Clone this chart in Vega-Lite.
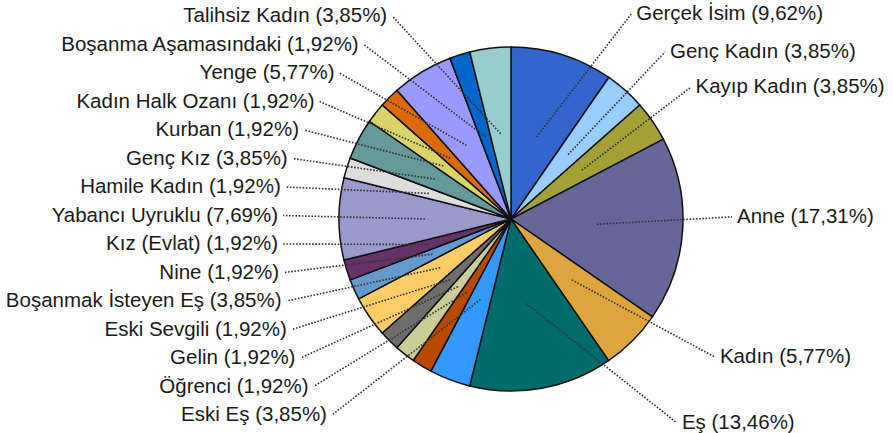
{
  "$schema": "https://vega.github.io/schema/vega-lite/v6.json",
  "width": 764,
  "height": 428,
  "autosize": "none",
  "padding": {"left": 129, "top": 5, "right": 0, "bottom": 0},
  "background": "white",
  "config": {"view": {"stroke": null}},
  "data": {
    "values": [
      {"kategori": "Gerçek İsim", "oran": 9.62, "sira": 1},
      {"kategori": "Genç Kadın", "oran": 3.85, "sira": 2},
      {"kategori": "Kayıp Kadın", "oran": 3.85, "sira": 3},
      {"kategori": "Anne", "oran": 17.31, "sira": 4},
      {"kategori": "Kadın", "oran": 5.77, "sira": 5},
      {"kategori": "Eş", "oran": 13.46, "sira": 6},
      {"kategori": "Eski Eş", "oran": 3.85, "sira": 7},
      {"kategori": "Öğrenci", "oran": 1.92, "sira": 8},
      {"kategori": "Gelin", "oran": 1.92, "sira": 9},
      {"kategori": "Eski Sevgili", "oran": 1.92, "sira": 10},
      {"kategori": "Boşanmak İsteyen Eş", "oran": 3.85, "sira": 11},
      {"kategori": "Nine", "oran": 1.92, "sira": 12},
      {"kategori": "Kız (Evlat)", "oran": 1.92, "sira": 13},
      {"kategori": "Yabancı Uyruklu", "oran": 7.69, "sira": 14},
      {"kategori": "Hamile Kadın", "oran": 1.92, "sira": 15},
      {"kategori": "Genç Kız", "oran": 3.85, "sira": 16},
      {"kategori": "Kurban", "oran": 1.92, "sira": 17},
      {"kategori": "Kadın Halk Ozanı", "oran": 1.92, "sira": 18},
      {"kategori": "Yenge", "oran": 5.77, "sira": 19},
      {"kategori": "Boşanma Aşamasındaki", "oran": 1.92, "sira": 20},
      {"kategori": "Talihsiz Kadın", "oran": 3.85, "sira": 21}
    ]
  },
  "layer": [
    {
      "mark": {"type": "arc", "outerRadius": 172, "stroke": "#111111", "strokeWidth": 1.5},
      "encoding": {
        "theta": {"field": "oran", "type": "quantitative", "stack": true},
        "order": {"field": "sira", "type": "quantitative"},
        "color": {
          "field": "kategori",
          "type": "nominal",
          "legend": null,
          "scale": {
            "domain": ["Gerçek İsim", "Genç Kadın", "Kayıp Kadın", "Anne", "Kadın", "Eş", "Eski Eş", "Öğrenci", "Gelin", "Eski Sevgili", "Boşanmak İsteyen Eş", "Nine", "Kız (Evlat)", "Yabancı Uyruklu", "Hamile Kadın", "Genç Kız", "Kurban", "Kadın Halk Ozanı", "Yenge", "Boşanma Aşamasındaki", "Talihsiz Kadın"],
            "range": ["#3366CC", "#99CCFF", "#A3A136", "#666699", "#DDA53C", "#006B6B", "#3399FF", "#B84A00", "#CCCC99", "#6E6E6E", "#FFCC66", "#6699CC", "#663366", "#9999CC", "#DDDDDD", "#669999", "#D9D46A", "#DD6A00", "#9999FF", "#0066CC", "#99CCCC"]
          }
        }
      }
    },
    {
      "transform": [
        {"window": [{"op": "sum", "field": "oran", "as": "cum"}], "sort": [{"field": "sira"}], "frame": [null, 0]},
        {"joinaggregate": [{"op": "count", "as": "n"}]},
        {"calculate": "(datum.cum - datum.oran / 2) / 100 * 2 * PI", "as": "a"},
        {"calculate": "datum.cum - datum.oran / 2 < 50", "as": "sag"},
        {"calculate": "86 * sin(datum.a)", "as": "x0"},
        {"calculate": "-86 * cos(datum.a)", "as": "y0"},
        {"calculate": "datum.sag ? (-210 * cos(datum.a) - 15 * sin(datum.a)) : (-203 + (datum.n - datum.sira) * 28.5)", "as": "ly"},
        {"calculate": "(datum.sag ? 226 : 233) - (datum.ly < 0 ? (datum.sag ? 0.0024 : 0.00265) * datum.ly * datum.ly : 0.0000065 * pow(abs(datum.ly), 3))", "as": "E"},
        {"calculate": "datum.sag ? datum.E - 5 : -datum.E + 5", "as": "lx"}
      ],
      "mark": {"type": "rule", "stroke": "#333333", "strokeWidth": 1.6, "strokeDash": [1.6, 1.6]},
      "encoding": {
        "x": {"field": "x0", "type": "quantitative", "scale": {"domain": [-382, 382], "nice": false, "zero": false}, "axis": null},
        "y": {"field": "y0", "type": "quantitative", "scale": {"domain": [-214, 214], "nice": false, "zero": false, "reverse": true}, "axis": null},
        "x2": {"field": "lx"},
        "y2": {"field": "ly"}
      }
    },
    {
      "transform": [
        {"window": [{"op": "sum", "field": "oran", "as": "cum"}], "sort": [{"field": "sira"}], "frame": [null, 0]},
        {"joinaggregate": [{"op": "count", "as": "n"}]},
        {"calculate": "(datum.cum - datum.oran / 2) / 100 * 2 * PI", "as": "a"},
        {"calculate": "datum.cum - datum.oran / 2 < 50", "as": "sag"},
        {"filter": "datum.sag"},
        {"calculate": "-210 * cos(datum.a) - 15 * sin(datum.a)", "as": "ly"},
        {"calculate": "226 - (datum.ly < 0 ? 0.0024 * datum.ly * datum.ly : 0.0000065 * pow(abs(datum.ly), 3))", "as": "E"},
        {"calculate": "datum.kategori + ' (' + replace(format(datum.oran, '.2f'), '.', ',') + '%)'", "as": "metin"}
      ],
      "mark": {"type": "text", "align": "left", "baseline": "middle", "font": "Liberation Sans", "fontSize": 20.5, "fill": "#1a1a1a"},
      "encoding": {
        "x": {"field": "E", "type": "quantitative", "scale": {"domain": [-382, 382], "nice": false, "zero": false}, "axis": null},
        "y": {"field": "ly", "type": "quantitative", "scale": {"domain": [-214, 214], "nice": false, "zero": false, "reverse": true}, "axis": null},
        "text": {"field": "metin"}
      }
    },
    {
      "transform": [
        {"window": [{"op": "sum", "field": "oran", "as": "cum"}], "sort": [{"field": "sira"}], "frame": [null, 0]},
        {"joinaggregate": [{"op": "count", "as": "n"}]},
        {"calculate": "datum.cum - datum.oran / 2 < 50", "as": "sag"},
        {"filter": "!datum.sag"},
        {"calculate": "-203 + (datum.n - datum.sira) * 28.5", "as": "ly"},
        {"calculate": "-(233 - (datum.ly < 0 ? 0.00265 * datum.ly * datum.ly : 0.0000065 * pow(abs(datum.ly), 3)))", "as": "E"},
        {"calculate": "datum.kategori + ' (' + replace(format(datum.oran, '.2f'), '.', ',') + '%)'", "as": "metin"}
      ],
      "mark": {"type": "text", "align": "right", "baseline": "middle", "font": "Liberation Sans", "fontSize": 20.5, "fill": "#1a1a1a"},
      "encoding": {
        "x": {"field": "E", "type": "quantitative", "scale": {"domain": [-382, 382], "nice": false, "zero": false}, "axis": null},
        "y": {"field": "ly", "type": "quantitative", "scale": {"domain": [-214, 214], "nice": false, "zero": false, "reverse": true}, "axis": null},
        "text": {"field": "metin"}
      }
    }
  ]
}
